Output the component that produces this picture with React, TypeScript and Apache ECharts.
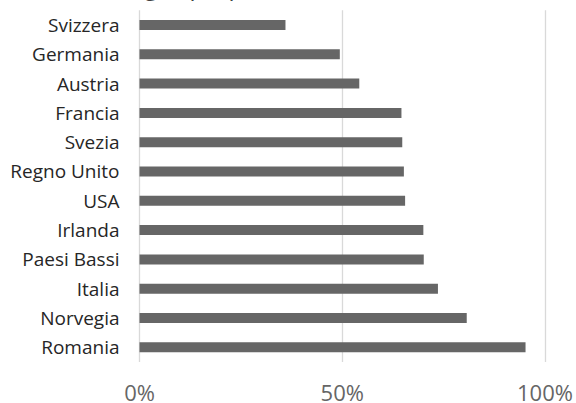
import React, { useEffect, useRef } from "react";
import * as echarts from "echarts";

const countries = [
  "Svizzera",
  "Germania",
  "Austria",
  "Francia",
  "Svezia",
  "Regno Unito",
  "USA",
  "Irlanda",
  "Paesi Bassi",
  "Italia",
  "Norvegia",
  "Romania",
];

const shares = [36.0, 49.4, 54.2, 64.6, 64.8, 65.2, 65.5, 70.0, 70.1, 73.6, 80.7, 95.2];

const titleText = "Quota di famiglie proprietarie";

const FONT = "'Open Sans', 'Noto Sans', sans-serif";

export default function App() {
  const ref = useRef<HTMLDivElement>(null);

  useEffect(() => {
    document.body.style.margin = "0";
    if (!ref.current) return;
    const chart = echarts.init(ref.current, undefined, { renderer: "svg" });
    chart.setOption({
      animation: false,
      backgroundColor: "#ffffff",
      graphic: [
        {
          type: "text",
          left: -8,
          top: -27,
          style: {
            text: titleText,
            fontFamily: FONT,
            fontSize: 24,
            fill: "#404040",
          },
        },
      ],
      grid: {
        left: 139.5,
        right: 31,
        top: 10.3,
        bottom: 40,
        containLabel: false,
      },
      xAxis: {
        type: "value",
        min: 0,
        max: 100,
        interval: 50,
        axisLine: { show: false },
        axisTick: { show: false },
        splitLine: { show: true, lineStyle: { color: "#d9d9d9", width: 1.3 } },
        axisLabel: {
          formatter: "{value}%",
          fontFamily: FONT,
          fontSize: 22,
          lineHeight: 22,
          color: "#666666",
          margin: 19,
        },
      },
      yAxis: {
        type: "category",
        inverse: true,
        data: countries,
        axisLine: { show: false },
        axisTick: { show: false },
        splitLine: { show: false },
        axisLabel: {
          fontFamily: FONT,
          fontSize: 19,
          color: "#262626",
          margin: 20,
        },
      },
      series: [
        {
          type: "bar",
          data: shares,
          barWidth: 10,
          itemStyle: { color: "#666666" },
        },
      ],
    });
    return () => chart.dispose();
  }, []);

  return <div ref={ref} style={{ width: 576, height: 403 }} />;
}
